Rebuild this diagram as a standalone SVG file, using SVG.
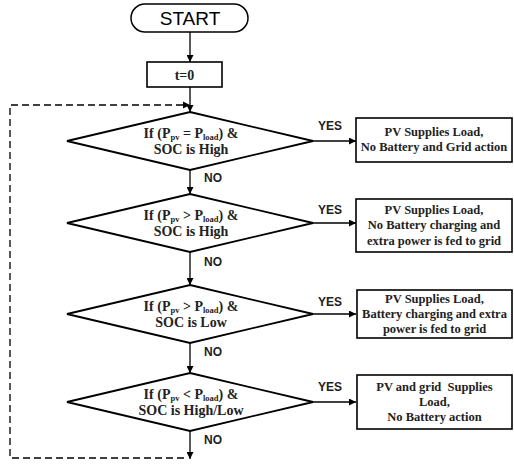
<svg xmlns="http://www.w3.org/2000/svg" width="514" height="466" viewBox="0 0 514 466">
<style>
.shape{fill:#fff;stroke:#000;stroke-width:1.8}
.box{fill:#fff;stroke:#000;stroke-width:1.6}
.line{fill:none;stroke:#000;stroke-width:1.3}
.dash{fill:none;stroke:#000;stroke-width:1.3;stroke-dasharray:7 4}
.cond{font-family:"Liberation Serif","Times New Roman",serif;font-weight:bold;font-size:14px;fill:#222;text-anchor:middle}
.res{font-family:"Liberation Serif","Times New Roman",serif;font-weight:bold;font-size:12.5px;fill:#222;text-anchor:middle}
.lbl{font-family:"Liberation Sans",Arial,sans-serif;font-weight:bold;font-size:12px;fill:#222}
.sub{font-size:8.5px}
</style>
<defs>
<marker id="ah" viewBox="0 0 10 10" refX="10" refY="5" markerWidth="7" markerHeight="7" markerUnits="userSpaceOnUse" orient="auto">
<path d="M0,0 L10,5 L0,10 z" fill="#000"/>
</marker>
</defs>
<rect width="514" height="466" fill="#fff"/>
<g id="connectors">
<line class="line" x1="190" y1="32" x2="190" y2="62" marker-end="url(#ah)"/>
<line class="line" x1="190" y1="87" x2="190" y2="112" marker-end="url(#ah)"/>
<line class="line" x1="190" y1="170" x2="190" y2="194" marker-end="url(#ah)"/>
<line class="line" x1="190" y1="252" x2="190" y2="285" marker-end="url(#ah)"/>
<line class="line" x1="190" y1="343" x2="190" y2="373" marker-end="url(#ah)"/>
<line class="line" x1="190" y1="431" x2="190" y2="459" marker-end="url(#ah)"/>
<line class="line" x1="313" y1="141" x2="356" y2="141" marker-end="url(#ah)"/>
<line class="line" x1="313" y1="223" x2="356" y2="223" marker-end="url(#ah)"/>
<line class="line" x1="313" y1="314" x2="356" y2="314" marker-end="url(#ah)"/>
<line class="line" x1="313" y1="402" x2="356" y2="402" marker-end="url(#ah)"/>
<polyline class="dash" points="184,458 10,458 10,105 183,105"/>
<path d="M183,101.5 L190,105 L183,108.5 z" fill="#000"/>
<text class="lbl" x="318" y="129.5">YES</text>
<text class="lbl" x="318" y="214">YES</text>
<text class="lbl" x="318" y="306">YES</text>
<text class="lbl" x="318" y="391">YES</text>
<text class="lbl" x="204" y="182">NO</text>
<text class="lbl" x="204" y="266">NO</text>
<text class="lbl" x="204" y="356">NO</text>
<text class="lbl" x="204" y="444">NO</text>
</g>
<g id="start">
<rect x="131" y="4" width="117" height="28" rx="14" ry="14" fill="#fff" stroke="#000" stroke-width="1.5"/>
<text x="190" y="24.5" font-family="'Liberation Sans',Arial,sans-serif" font-size="19" text-anchor="middle" fill="#000">START</text>
</g>
<g id="init">
<rect class="box" x="147" y="62" width="75" height="25"/>
<text class="cond" x="184.5" y="80">t=0</text>
</g>
<g id="d1">
<polygon class="shape" points="190,112 313,141 190,170 67,141"/>
<text class="cond" x="191" y="137.5">If (P<tspan class="sub" dy="2">pv</tspan><tspan dy="-2"> = P</tspan><tspan class="sub" dy="2">load</tspan><tspan dy="-2">) &amp;</tspan></text>
<text class="cond" x="191" y="153.5">SOC is High</text>
</g>
<g id="d2">
<polygon class="shape" points="190,194 313,223 190,252 67,223"/>
<text class="cond" x="191" y="219.5">If (P<tspan class="sub" dy="2">pv</tspan><tspan dy="-2"> &gt; P</tspan><tspan class="sub" dy="2">load</tspan><tspan dy="-2">) &amp;</tspan></text>
<text class="cond" x="191" y="236">SOC is High</text>
</g>
<g id="d3">
<polygon class="shape" points="190,285 313,314 190,343 67,314"/>
<text class="cond" x="191" y="310.5">If (P<tspan class="sub" dy="2">pv</tspan><tspan dy="-2"> &gt; P</tspan><tspan class="sub" dy="2">load</tspan><tspan dy="-2">) &amp;</tspan></text>
<text class="cond" x="191" y="326.5">SOC is Low</text>
</g>
<g id="d4">
<polygon class="shape" points="190,373 313,402 190,431 67,402"/>
<text class="cond" x="191" y="398.5">If (P<tspan class="sub" dy="2">pv</tspan><tspan dy="-2"> &lt; P</tspan><tspan class="sub" dy="2">load</tspan><tspan dy="-2">) &amp;</tspan></text>
<text class="cond" x="191" y="414.5">SOC is High/Low</text>
</g>
<g id="r1">
<rect class="box" x="356" y="118" width="156" height="44"/>
<text class="res" x="434" y="135.5">PV Supplies Load,</text>
<text class="res" x="434" y="151">No Battery and Grid action</text>
</g>
<g id="r2">
<rect class="box" x="356" y="199" width="156" height="53"/>
<text class="res" x="434" y="213.5">PV Supplies Load,</text>
<text class="res" x="434" y="229">No Battery charging and</text>
<text class="res" x="434" y="244.5">extra power is fed to grid</text>
</g>
<g id="r3">
<rect class="box" x="357" y="290" width="155" height="48"/>
<text class="res" x="434.5" y="302.5">PV Supplies Load,</text>
<text class="res" x="434.5" y="318">Battery charging and extra</text>
<text class="res" x="434.5" y="333">power is fed to grid</text>
</g>
<g id="r4">
<rect class="box" x="357" y="375" width="155" height="54"/>
<text class="res" x="434.5" y="391" xml:space="preserve">PV and grid  Supplies</text>
<text class="res" x="434.5" y="406">Load,</text>
<text class="res" x="434.5" y="421">No Battery action</text>
</g>
</svg>
